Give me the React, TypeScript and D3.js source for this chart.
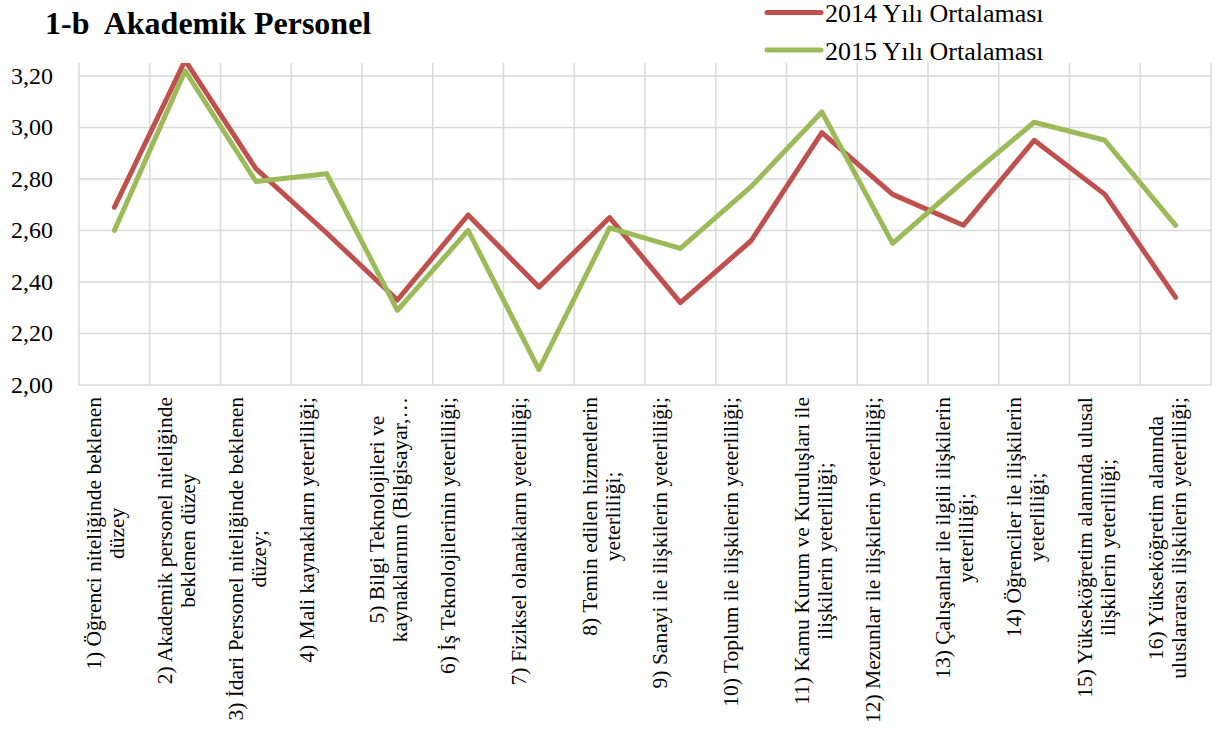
import React, { useEffect, useRef } from "react";
import * as d3 from "d3";

// category labels, already split into the lines the reference shows
const categories: string[][] = [
  ["1) Öğrenci niteliğinde beklenen", "düzey"],
  ["2) Akademik personel niteliğinde", "beklenen düzey"],
  ["3) İdari Personel niteliğinde beklenen", "düzey;"],
  ["4) Mali kaynakların yeterliliği;"],
  ["5) Bilgi Teknolojileri ve", "kaynaklarının (Bilgisayar,…"],
  ["6) İş Teknolojilerinin yeterliliği;"],
  ["7) Fiziksel olanakların yeterliliği;"],
  ["8) Temin edilen hizmetlerin", "yeterliliği;"],
  ["9) Sanayi ile ilişkilerin yeterliliği;"],
  ["10) Toplum ile ilişkilerin yeterliliği;"],
  ["11) Kamu Kurum ve Kuruluşları ile", "ilişkilerin yeterliliği;"],
  ["12) Mezunlar ile ilişkilerin yeterliliği;"],
  ["13) Çalışanlar ile ilgili ilişkilerin", "yeterliliği;"],
  ["14) Öğrenciler ile ilişkilerin", "yeterliliği;"],
  ["15) Yükseköğretim alanında ulusal", "ilişkilerin yeterliliği;"],
  ["16) Yükseköğretim alanında", "uluslararası ilişkilerin yeterliliği;"],
];

const avg2014 = [2.69, 3.26, 2.84, 2.59, 2.33, 2.66, 2.38, 2.65, 2.32, 2.56, 2.98, 2.74, 2.62, 2.95, 2.74, 2.34];
const avg2015 = [2.6, 3.22, 2.79, 2.82, 2.29, 2.6, 2.06, 2.61, 2.53, 2.77, 3.06, 2.55, 2.79, 3.02, 2.95, 2.62];

const seriesNames = ["2014 Yılı Ortalaması", "2015 Yılı Ortalaması"];
const yTicks = [2.0, 2.2, 2.4, 2.6, 2.8, 3.0, 3.2];

const colors = ["#C0504D", "#9BBB59"];
const FONT = "'Liberation Serif', 'Times New Roman', serif";

function LineChart() {
  const ref = useRef<SVGSVGElement | null>(null);

  useEffect(() => {
    const width = 1220, height = 731;
    const left = 79, right = 1211, top = 63, bottom = 385;

    const svg = d3.select(ref.current);
    svg.selectAll("*").remove();
    svg.attr("width", width).attr("height", height).style("font-family", FONT);

    const x = d3.scaleBand<number>().domain(d3.range(categories.length)).range([left, right]);
    const y = d3.scaleLinear().domain([2, 3.25]).range([bottom, top]);
    const bw = x.bandwidth();

    // grid
    const grid = svg.append("g").attr("stroke", "#D9D9D9").attr("stroke-width", 1.5);
    grid.selectAll("line.h")
      .data(yTicks)
      .enter().append("line")
      .attr("x1", left).attr("x2", right)
      .attr("y1", d => y(d)).attr("y2", d => y(d));
    grid.selectAll("line.v")
      .data(d3.range(categories.length + 1))
      .enter().append("line")
      .attr("x1", i => left + i * bw).attr("x2", i => left + i * bw)
      .attr("y1", top).attr("y2", bottom);

    // y tick labels
    svg.append("g").selectAll("text")
      .data(yTicks)
      .enter().append("text")
      .attr("x", 53)
      .attr("y", d => y(d) + 8)
      .attr("text-anchor", "end")
      .attr("font-size", 24)
      .attr("fill", "#000")
      .text(d => d3.format(".2f")(d).replace(".", ","));

    // series
    svg.append("clipPath").attr("id", "plot-clip")
      .append("rect").attr("x", left).attr("y", top).attr("width", right - left).attr("height", bottom - top + 10);

    const line = d3.line<number>()
      .x((d, i) => (x(i) as number) + bw / 2)
      .y(d => y(d));

    [avg2014, avg2015].forEach((data, k) => {
      svg.append("path")
        .datum(data)
        .attr("clip-path", "url(#plot-clip)")
        .attr("fill", "none")
        .attr("stroke", colors[k])
        .attr("stroke-width", 5)
        .attr("stroke-linejoin", "round")
        .attr("stroke-linecap", "round")
        .attr("d", line);
    });

    // category labels, rotated, top aligned under the axis
    const lineGap = 23;
    categories.forEach((lines, i) => {
      const cx = (x(i) as number) + bw / 2;
      const g = svg.append("g").attr("transform", "translate(" + cx + ",397) rotate(-90)");
      const texts = lines.map((t, j) =>
        g.append("text")
          .attr("y", -20 + j * lineGap)
          .attr("dominant-baseline", "central")
          .attr("text-anchor", "middle")
          .attr("font-size", 21.5)
          .attr("fill", "#000")
          .text(t)
      );
      const maxW = d3.max(texts, t => (t.node() as SVGTextElement).getComputedTextLength()) || 0;
      texts.forEach(t => t.attr("x", -maxW / 2));
    });

    // title
    svg.append("text")
      .attr("x", 45).attr("y", 34)
      .attr("font-size", 32).attr("font-weight", "bold")
      .attr("fill", "#000")
      .style("white-space", "pre")
      .text("1-b  Akademik Personel");

    // legend
    const legend = svg.append("g");
    seriesNames.forEach((name, k) => {
      const ly = k === 0 ? 12.5 : 50;
      legend.append("line")
        .attr("x1", 767).attr("x2", 821)
        .attr("y1", ly).attr("y2", ly)
        .attr("stroke", colors[k]).attr("stroke-width", 5).attr("stroke-linecap", "round");
      legend.append("text")
        .attr("x", 825).attr("y", ly + 9.5)
        .attr("font-size", 26).attr("fill", "#000")
        .text(name);
    });
  }, []);

  return <svg ref={ref} style={{ position: "absolute", left: 0, top: 0, background: "#fff" }} />;
}

export default function App() {
  return <LineChart />;
}
